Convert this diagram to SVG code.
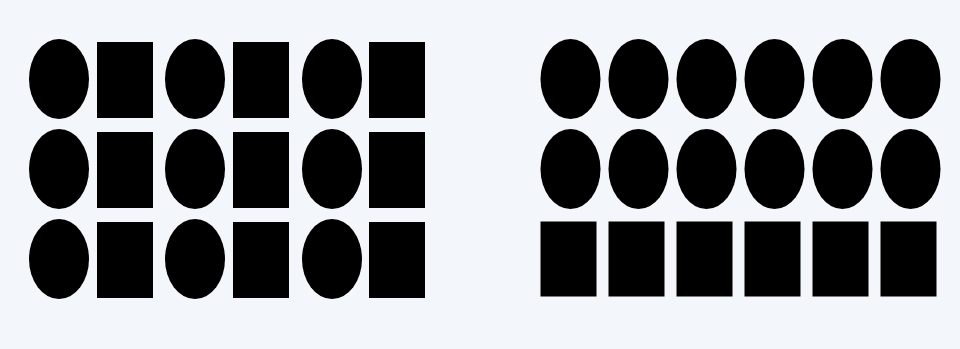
<svg xmlns="http://www.w3.org/2000/svg" width="960" height="349" viewBox="0 0 960 349">
<style>
.s{fill:#000;}
</style>
<rect width="960" height="349" fill="#f3f6fb"/>
<g id="left-group">
<ellipse class="s" cx="59" cy="79" rx="30" ry="40"/>
<rect class="s" x="97" y="42" width="56" height="76"/>
<ellipse class="s" cx="195" cy="79" rx="30" ry="40"/>
<rect class="s" x="233" y="42" width="56" height="76"/>
<ellipse class="s" cx="332" cy="79" rx="30" ry="40"/>
<rect class="s" x="369" y="42" width="56" height="76"/>
<ellipse class="s" cx="59" cy="169" rx="30" ry="40"/>
<rect class="s" x="97" y="132" width="56" height="76"/>
<ellipse class="s" cx="195" cy="169" rx="30" ry="40"/>
<rect class="s" x="233" y="132" width="56" height="76"/>
<ellipse class="s" cx="332" cy="169" rx="30" ry="40"/>
<rect class="s" x="369" y="132" width="56" height="76"/>
<ellipse class="s" cx="59" cy="259" rx="30" ry="40"/>
<rect class="s" x="97" y="222" width="56" height="76"/>
<ellipse class="s" cx="195" cy="259" rx="30" ry="40"/>
<rect class="s" x="233" y="222" width="56" height="76"/>
<ellipse class="s" cx="332" cy="259" rx="30" ry="40"/>
<rect class="s" x="369" y="222" width="56" height="76"/>
</g>
<g id="right-group">
<ellipse class="s" cx="570.5" cy="79" rx="30" ry="40"/>
<ellipse class="s" cx="638.5" cy="79" rx="30" ry="40"/>
<ellipse class="s" cx="706.5" cy="79" rx="30" ry="40"/>
<ellipse class="s" cx="774.5" cy="79" rx="30" ry="40"/>
<ellipse class="s" cx="842.5" cy="79" rx="30" ry="40"/>
<ellipse class="s" cx="910.5" cy="79" rx="30" ry="40"/>
<ellipse class="s" cx="570.5" cy="169" rx="30" ry="40"/>
<ellipse class="s" cx="638.5" cy="169" rx="30" ry="40"/>
<ellipse class="s" cx="706.5" cy="169" rx="30" ry="40"/>
<ellipse class="s" cx="774.5" cy="169" rx="30" ry="40"/>
<ellipse class="s" cx="842.5" cy="169" rx="30" ry="40"/>
<ellipse class="s" cx="910.5" cy="169" rx="30" ry="40"/>
<rect class="s" x="540.5" y="221.5" width="56" height="75"/>
<rect class="s" x="608.5" y="221.5" width="56" height="75"/>
<rect class="s" x="676.5" y="221.5" width="56" height="75"/>
<rect class="s" x="744.5" y="221.5" width="56" height="75"/>
<rect class="s" x="812.5" y="221.5" width="56" height="75"/>
<rect class="s" x="880.5" y="221.5" width="56" height="75"/>
</g>
</svg>
